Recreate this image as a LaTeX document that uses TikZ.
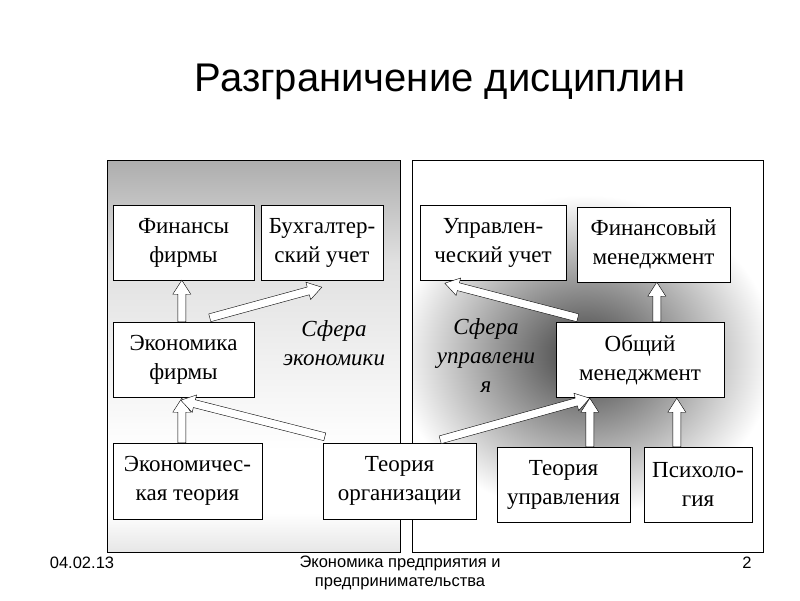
\documentclass[tikz,border=0pt]{standalone}
\usepackage{fontspec}
\setmainfont{Liberation Serif}
\newfontfamily\arialf{Liberation Sans}
\usetikzlibrary{calc}
\pgfdeclareverticalshading{leftsh}{100bp}{color(0bp)=(black!58); color(30bp)=(white); color(38bp)=(white); color(62bp)=(black!12); color(88bp)=(black!52); color(100bp)=(black!66)}
\tikzset{
  box/.style={draw, fill=white, align=center, inner sep=0pt, font=\fontsize{23}{29}\selectfont},
  sfera/.style={align=center, font=\fontsize{23}{29}\selectfont\itshape},
  foot/.style={font=\arialf\fontsize{16.5}{19}\selectfont, align=center}
}
\newcommand\barrow[2]{%
  \draw[fill=white, line join=miter] 
    ($(#1)!4pt!90:(#2)$) -- ($($(#2)!14pt!(#1)$)!4pt!-90:(#1)$) -- ($($(#2)!14pt!(#1)$)!9pt!-90:(#1)$) -- (#2)
    -- ($($(#2)!14pt!(#1)$)!9pt!90:(#1)$) -- ($($(#2)!14pt!(#1)$)!4pt!90:(#1)$) -- ($(#1)!4pt!-90:(#2)$) -- cycle;}
\begin{document}
\begin{tikzpicture}[x=1pt,y=-1pt]
\useasboundingbox (0,0) rectangle (800,600);
% panels
\shade[shading=leftsh] (107,160) rectangle (400,552);
\draw (107,160) rectangle (400,552);
\begin{scope}
\clip (412,160) rectangle (763,552);
\fill[white] (412,160) rectangle (763,552);
\shade[inner color=black!75, outer color=white] (585,355) ellipse (190 and 160);
\end{scope}
\draw (412,160) rectangle (763,552);
% title
\node[font=\arialf\fontsize{40}{44}\selectfont] (title) at (440,82) {Разграничение дисциплин};
% boxes
\node[box, minimum width=141, minimum height=75] (ff) at (183.5,242.5) {Финансы\\фирмы};
\node[box, minimum width=122, minimum height=75] (bu) at (322,242.5) {Бухгалтер-\\ский учет};
\node[box, minimum width=146, minimum height=75] (uu) at (493,242.5) {Управлен-\\ческий учет};
\node[box, minimum width=153, minimum height=75] (fm) at (653.5,244.5) {Финансовый\\менеджмент};
\node[box, minimum width=141, minimum height=75] (ef) at (183.5,359.5) {Экономика\\фирмы};
\node[box, minimum width=168, minimum height=75] (om) at (640,359.5) {Общий\\менеджмент};
\node[box, minimum width=149, minimum height=76] (et) at (187.5,481) {Экономичес-\\кая теория};
\node[box, minimum width=153, minimum height=76] (to) at (399.5,481) {Теория\\организации};
\node[box, minimum width=133, minimum height=75] (tu) at (563.5,484.5) {Теория\\управления};
\node[box, minimum width=108, minimum height=75] (ps) at (698,484.5) {Психоло-\\гия};
\node[sfera] (se) at (334,343) {Сфера\\экономики};
\node[sfera] (su) at (486,356) {Сфера\\управлени\\я};
% arrows
\coordinate (a1s) at ($(ef.north west)+(69,0)$); \coordinate (a1e) at ($(ff.south west)+(69,0)$);
\barrow{a1s}{a1e}
\coordinate (a2s) at ($(ef.north west)+(97,-4)$); \coordinate (a2e) at ($(bu.south west)+(61,7)$);
\barrow{a2s}{a2e}
\coordinate (a3s) at ($(om.north west)+(22,-4)$); \coordinate (a3e) at ($(uu.south west)+(25,3)$);
\barrow{a3s}{a3e}
\coordinate (a4s) at ($(om.north west)+(101,0)$); \coordinate (a4e) at ($(fm.south west)+(80,0)$);
\barrow{a4s}{a4e}
\coordinate (a5s) at ($(et.north west)+(69,0)$); \coordinate (a5e) at ($(ef.south west)+(69,1)$);
\barrow{a5s}{a5e}
\coordinate (a6s) at ($(to.north west)+(2,-6)$); \coordinate (a6e) at ($(ef.south west)+(68,3)$);
\barrow{a6s}{a6e}
\coordinate (a7s) at ($(to.north east)+(-36,-3)$); \coordinate (a7e) at ($(om.south west)+(34,1)$);
\barrow{a7s}{a7e}
\coordinate (a8s) at ($(tu.north west)+(93,0)$); \coordinate (a8e) at ($(om.south west)+(34,1)$);
\barrow{a8s}{a8e}
\coordinate (a9s) at ($(ps.north west)+(33,0)$); \coordinate (a9e) at ($(om.south west)+(121,1)$);
\barrow{a9s}{a9e}
% footer
\node[foot] (d) at (82,563) {04.02.13};
\node[foot] (c) at (400,573) {Экономика предприятия и\\предпринимательства};
\node[foot] (p) at (747,563) {2};
\end{tikzpicture}
\end{document}
